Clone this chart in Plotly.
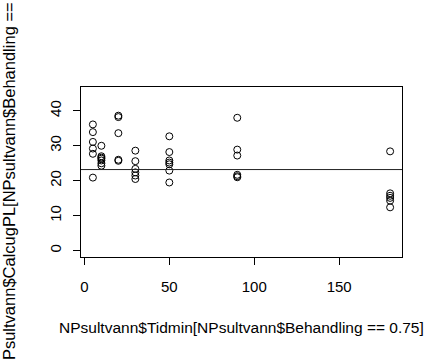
import plotly.graph_objects as go

# Data
tidmin = [5, 5, 5, 5, 5, 5,
          10, 10, 10, 10, 10, 10, 10,
          20, 20, 20, 20, 20,
          30, 30, 30, 30, 30, 30,
          50, 50, 50, 50, 50, 50, 50,
          90, 90, 90, 90, 90, 90,
          180, 180, 180, 180, 180, 180]
calcug = [36.1, 33.9, 31.1, 29.2, 27.7, 20.9,
          30.0, 27.0, 26.6, 26.3, 25.8, 25.0, 24.3,
          38.6, 38.2, 33.6, 26.0, 25.7,
          28.6, 25.6, 23.4, 22.4, 21.5, 20.5,
          32.7, 28.2, 25.8, 25.2, 24.7, 22.9, 19.5,
          38.0, 28.9, 27.2, 21.7, 21.3, 21.0,
          28.4, 16.4, 15.7, 15.1, 14.3, 12.4]
hline_value = 23.2
x_ticks = [0, 50, 100, 150]
y_ticks = [0, 10, 20, 30, 40]
x_title = "NPsultvann$Tidmin[NPsultvann$Behandling == 0.75]"
y_title = "NPsultvann$CalcugPL[NPsultvann$Behandling == 0.75]"

FONT = "Liberation Sans, Arial, sans-serif"
W, H = 427, 360
L, R, T, B = 81, 25, 87, 103
pw = W - L - R
ph = H - T - B

fig = go.Figure()
fig.add_trace(go.Scatter(
    x=tidmin, y=calcug, mode="markers",
    marker=dict(symbol="circle-open", size=7, color="black", line=dict(width=1, color="black")),
    showlegend=False, cliponaxis=False,
))
fig.add_shape(type="line", xref="paper", x0=0, x1=1, yref="y", y0=hline_value, y1=hline_value,
              line=dict(color="#222", width=1))

axis_common = dict(showgrid=False, zeroline=False, showline=True, linecolor="black", linewidth=1,
                   mirror=True, ticks="outside", ticklen=7, tickwidth=1, tickcolor="black",
                   tickfont=dict(family=FONT, size=15, color="black"))
fig.update_xaxes(range=[-2, 187], tickvals=x_ticks, ticktext=[str(v) for v in x_ticks],
                 ticklabelstandoff=9, **axis_common)
fig.update_yaxes(range=[-1.8, 46.8], tickvals=y_ticks, ticktext=[str(v) for v in y_ticks],
                 tickangle=-90, ticklabelstandoff=6, **axis_common)

fig.add_annotation(text=x_title, xref="paper", yref="paper", x=0.5, y=-(327 - (H - B)) / ph,
                   xanchor="center", yanchor="middle", showarrow=False,
                   font=dict(family=FONT, size=15.5, color="black"))
fig.add_annotation(text=y_title, xref="paper", yref="paper", x=(9 - L) / pw, y=(H - B - 167) / ph,
                   xanchor="center", yanchor="middle", textangle=-90, showarrow=False,
                   font=dict(family=FONT, size=16.5, color="black"))

fig.update_layout(width=W, height=H, margin=dict(l=L, r=R, t=T, b=B),
                  paper_bgcolor="white", plot_bgcolor="white")
fig.write_html("out.html")
